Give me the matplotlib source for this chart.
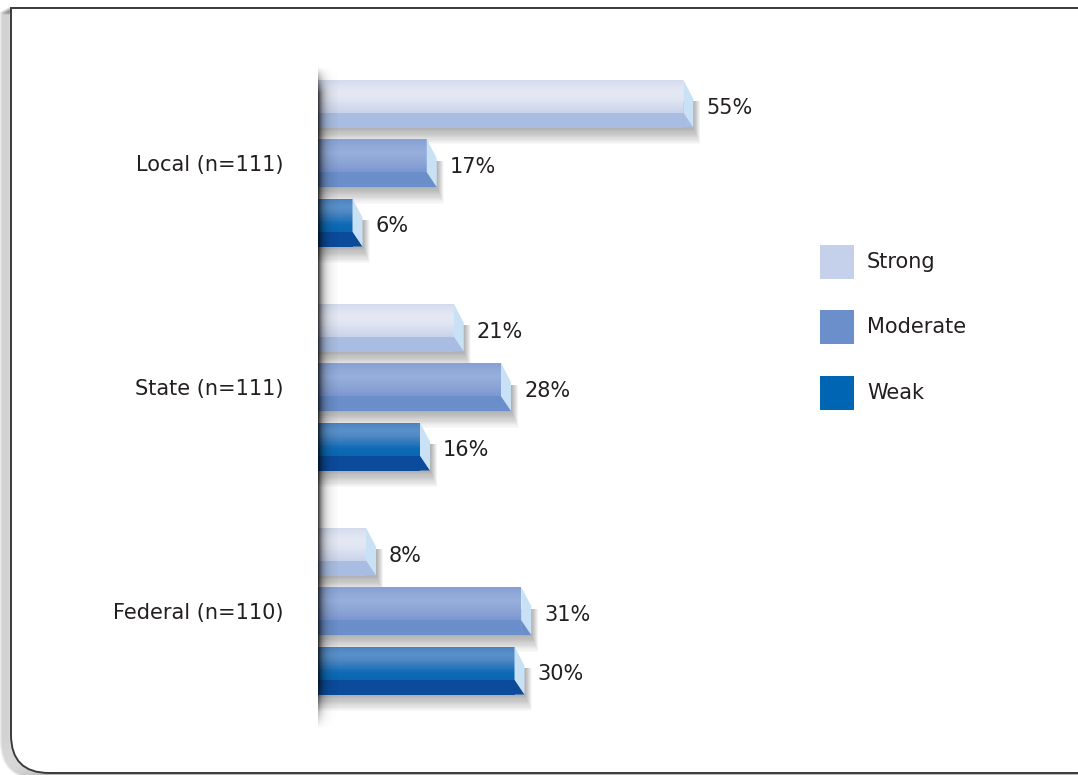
import numpy as np
import matplotlib
matplotlib.use("Agg")
from matplotlib import pyplot as plt
from matplotlib.colors import LinearSegmentedColormap
from matplotlib.patches import Polygon, Rectangle, PathPatch
from matplotlib.path import Path

plt.rcParams['font.family'] = ['DejaVu Sans']

# data
groups = ['Local (n=111)', 'State (n=111)', 'Federal (n=110)']
series = ['Strong', 'Moderate', 'Weak']
strong = [55, 21, 8]
moderate = [17, 28, 31]
weak = [6, 16, 30]
values = [strong, moderate, weak]

# bar styling: gradient of the upper face, lower band, legend swatch
top_faces = [
    ['#d3daee', '#dfe4f2', '#e4e8f4', '#e0e5f3', '#d6ddef', '#c9d3eb'],
    ['#87a1d5', '#90a9d8', '#95aedb', '#90a9d8', '#86a1d4', '#7d99d0'],
    ['#4a82c1', '#5a90c8', '#5089c5', '#2f78bd', '#0d6cb6', '#0a66b2'],
]
bands = ['#a9bce1', '#6a8eca', '#0b4b9b']
swatches = ['#c5d0ea', '#6a8fcb', '#0066b3']
cap_color = '#c9e1f5'
text_color = '#231f20'

W, H = 1078, 775
fig = plt.figure(figsize=(W / 100, H / 100), dpi=100)

# background / frame axes in pixel units
bg = fig.add_axes([0, 0, 1, 1], zorder=0)
bg.set_xlim(0, W)
bg.set_ylim(H, 0)
bg.axis('off')

r = 38
verts = [(W + 5, 8), (11, 8), (11, 773 - r), (11, 773), (11 + r, 773), (W + 5, 773)]
codes = [Path.MOVETO, Path.LINETO, Path.LINETO, Path.CURVE3, Path.CURVE3, Path.LINETO]
frame = Path(verts, codes)
# soft shadow of the frame
for k in range(1, 12):
    sh = Path([(x - k * 0.9, y + k * 0.5) for x, y in verts], codes)
    bg.add_patch(PathPatch(sh, fill=False, lw=2, color='black', alpha=0.06))
bg.add_patch(PathPatch(frame, facecolor='white', edgecolor='#3a3a3a', lw=1.4))

# legend
legend_y = [262, 327, 393]
for name, col, ly in zip(series, swatches, legend_y):
    bg.add_patch(Rectangle((820, ly - 17), 34, 34, facecolor=col, edgecolor='none'))
    bg.text(867, ly, name, fontsize=15, color=text_color, va='center', ha='left')

# main chart axes
px_per_unit = 6.75
zero_px = 312
ax_left_px, ax_top_px, ax_bot_px = 318, 65, 730
ax = fig.add_axes([ax_left_px / W, (H - ax_bot_px) / H,
                   (W - ax_left_px) / W, (ax_bot_px - ax_top_px) / H], zorder=1)
x0 = (ax_left_px - zero_px) / px_per_unit
ax.set_xlim(x0, x0 + (W - ax_left_px) / px_per_unit)
ypx = 224.0  # pixels per group unit
ax.set_ylim((ax_bot_px - 163) / ypx, (ax_top_px - 163) / ypx)
ax.patch.set_alpha(0)
for s in ax.spines.values():
    s.set_visible(False)
ax.set_xticks([])
ax.set_yticks(range(len(groups)))
ax.set_yticklabels(groups, fontsize=15, color=text_color)
ax.tick_params(axis='y', length=0, pad=25)

step = 59.5 / ypx
h = 48 / ypx
band_frac = 0.31
dx = 10 / px_per_unit
nstrips = 18

for j, (vals, face, band) in enumerate(zip(values, top_faces, bands)):
    cmap = LinearSegmentedColormap.from_list('f%d' % j, face)
    for g, v in enumerate(vals):
        yc = g + (j - 1) * step
        ytop = yc - h / 2
        ybot = yc + h / 2
        yband = ybot - band_frac * h
        # soft drop shadow
        for k in range(1, 15):
            ax.add_patch(Rectangle((0, ytop + 0.45 * h),
                                   v + dx + k * 0.5 / px_per_unit,
                                   0.55 * h + k * 1.2 / ypx,
                                   facecolor='black', edgecolor='none',
                                   alpha=0.022, zorder=1))
        # upper face with gradient
        hs = (yband - ytop) / nstrips
        for i in range(nstrips):
            ax.barh(ytop + i * hs, v, height=hs * 1.02, left=0, align='edge',
                    color=cmap(i / (nstrips - 1)), edgecolor='none', zorder=2)
        # lower band
        ax.barh(yband, v, height=ybot - yband, left=0, align='edge',
                color=band, edgecolor='none', zorder=2)
        ax.add_patch(Polygon([(v, yband), (v + dx, ybot), (v, ybot)],
                             closed=True, facecolor=band, edgecolor='none', zorder=2))
        # bevelled end cap
        ax.add_patch(Polygon([(v, ytop), (v + dx, ytop + 0.4 * h), (v + dx, ybot), (v, yband)],
                             closed=True, facecolor=cap_color, edgecolor='none', zorder=2))
        ax.text(v + dx + 13 / px_per_unit, yc + 4 / ypx, '%d%%' % v,
                fontsize=15, color=text_color, va='center', ha='left', zorder=3)

# shadow along the value axis
nx, ny = 40, 200
hx = np.exp(-np.linspace(0, 4, nx)) * 0.8
yy = np.linspace(0, 1, ny)
vy = np.clip(yy / 0.04, 0, 1) * np.clip((1 - yy) / 0.07, 0, 1)
alpha = vy[:, None] * hx[None, :]
img = np.zeros((ny, nx, 4))
img[..., 3] = alpha
ylo, yhi = ax.get_ylim()
ax.imshow(img, extent=[x0, x0 + 20 / px_per_unit, ylo, yhi], origin='upper',
          aspect='auto', zorder=4, interpolation='bilinear')
ax.set_xlim(x0, x0 + (W - ax_left_px) / px_per_unit)
ax.set_ylim(ylo, yhi)

fig.savefig('out.png', dpi=100)
